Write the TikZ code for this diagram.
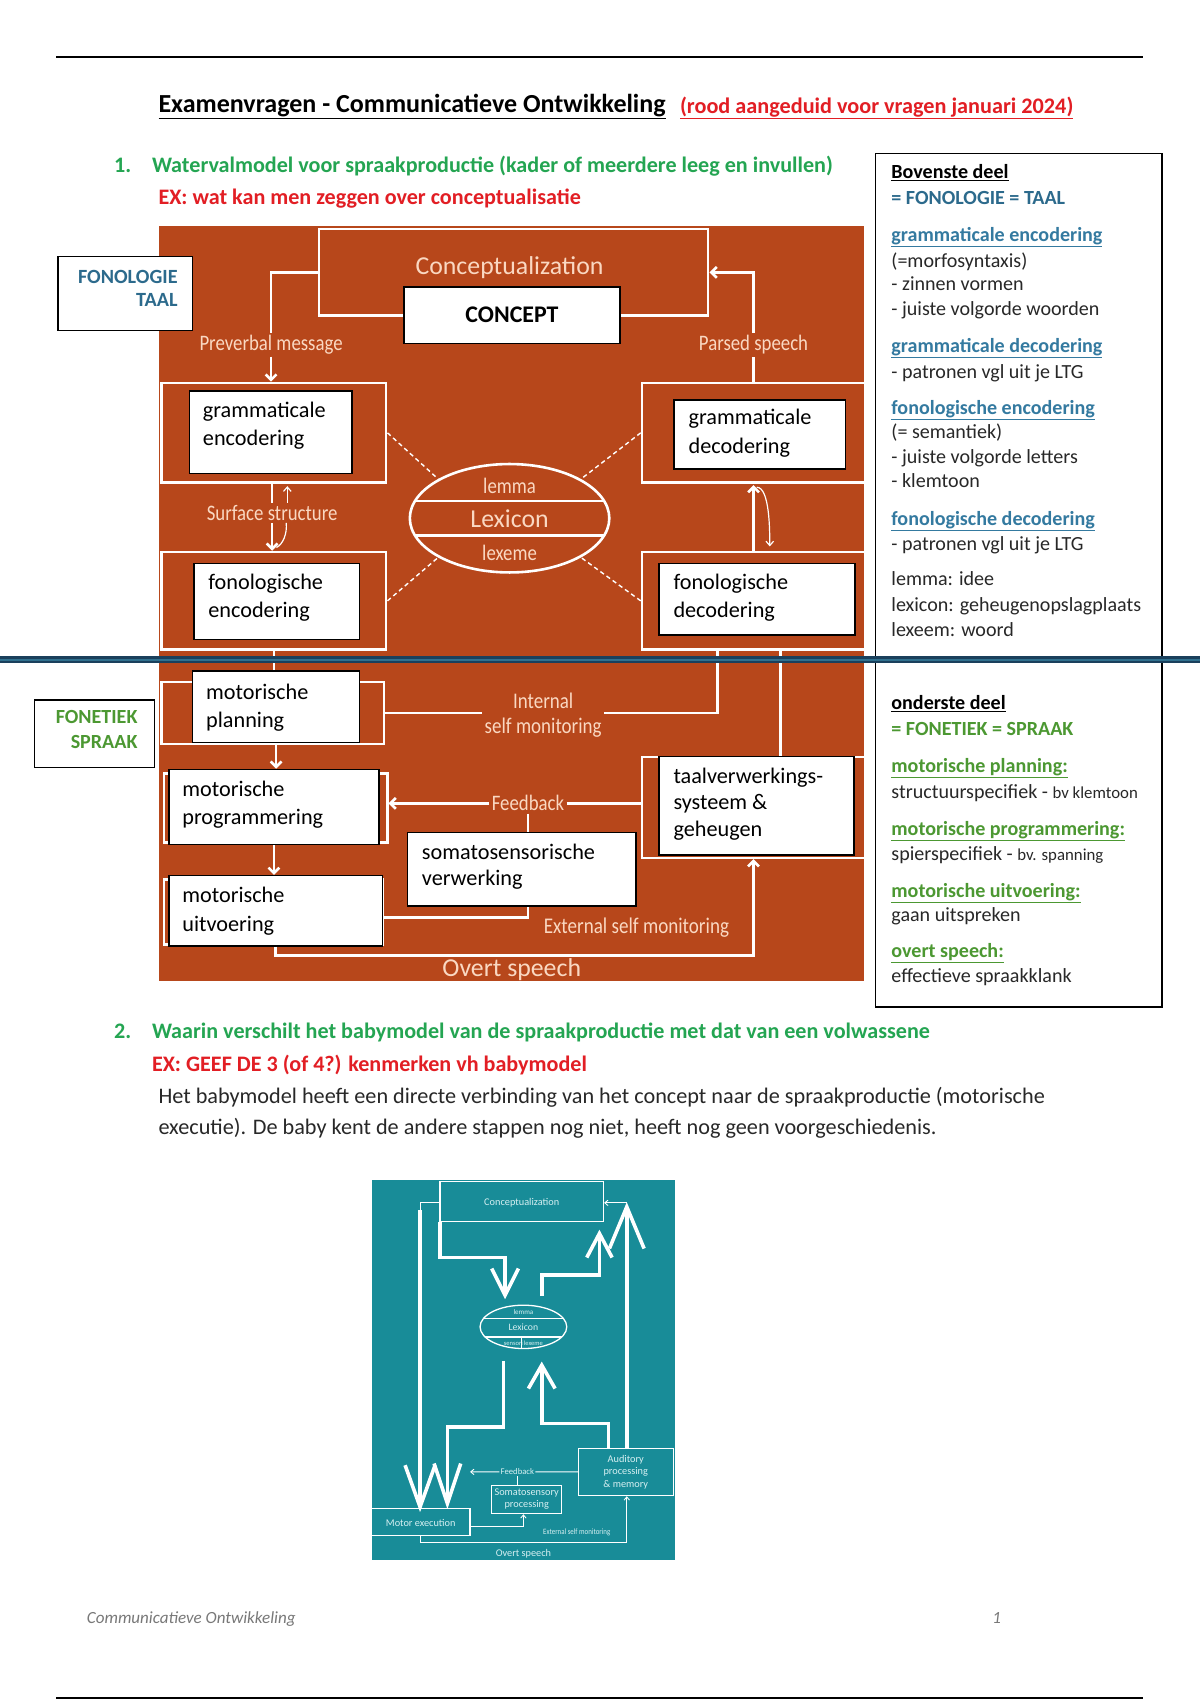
\documentclass[tikz,border=0pt]{standalone}
\usepackage{fontspec}
\setmainfont{Carlito}
\newfontfamily\condfont[FakeStretch=0.85]{Carlito}
\usetikzlibrary{arrows.meta,calc,shapes.geometric}
\newcommand\fs[2]{\fontsize{#1}{#2}\selectfont}
\newcommand\myul[1]{$\underline{\hbox{#1}}$}
\definecolor{rust}{RGB}{183,71,27}
\definecolor{peach}{RGB}{250,216,194}
\definecolor{hgreen}{RGB}{36,165,82}
\definecolor{hred}{RGB}{226,30,36}
\definecolor{fblue}{RGB}{44,106,140}
\definecolor{lblue}{RGB}{52,122,160}
\definecolor{fgreen}{RGB}{76,152,50}
\definecolor{tealbg}{RGB}{24,140,152}
\definecolor{tealtxt}{RGB}{215,240,242}
\definecolor{navy}{RGB}{26,64,92}
\definecolor{navyl}{RGB}{48,112,142}
\definecolor{foot}{RGB}{120,120,120}
\definecolor{dtxt}{RGB}{40,40,40}
\newcommand\wbx[5]{\node[wbox, minimum width={#4-#2}, minimum height={#5-#3}] (#1) at (#2,#3) {};}
\newcommand\frx[5]{\node[frm, minimum width={#4-#2}, minimum height={#5-#3}] (#1) at (#2,#3) {};}
\newcommand\chev[6]{\draw[tk] (#1,#2) -- (#3,#4) -- (#5,#6);}
\begin{document}
\begin{tikzpicture}[x=1pt,y=-1pt,
  wbox/.style={draw=black, line width=1.4, fill=white, inner sep=0, anchor=north west, rectangle},
  frm/.style={draw=white, line width=2.4, inner sep=0, anchor=north west, rectangle},
  wl/.style={white, line width=2.4},
  warr/.style={wl, -{Straight Barb[length=5pt,width=10pt]}},
  tl/.style={white, line width=1.1},
  tarr/.style={tl, -{Straight Barb[length=4pt,width=7pt]}},
  dsh/.style={white, line width=1.3, dash pattern=on 4pt off 3pt},
  bt/.style={inner sep=0, anchor=west, align=left, font=\fs{20.5}{26}, text=black, yshift=-2.5pt},
  pl/.style={inner sep=2pt, text=peach, font=\condfont\fs{20.4}{24}, align=center},
  bigpl/.style={inner sep=0, text=peach, font=\fs{23.8}{27}},
  rb/.style={inner sep=0, anchor=mid west, font=\fs{18.5}{21}, text=dtxt, yshift=-4pt},
  rbh/.style={rb, font=\bfseries\fs{18.5}{21}, text=lblue},
  rbg/.style={rb, font=\bfseries\fs{18.5}{21}, text=fgreen},
  hd/.style={inner sep=0, anchor=mid west, font=\bfseries\fs{20.4}{24}, yshift=-4.5pt},
  body/.style={inner sep=0, anchor=mid west, font=\fs{20.5}{24}, text=dtxt, yshift=-4pt},
  tbx/.style={white, line width=1.2},
  tk/.style={white, line width=3.3, line join=miter},
  tthin/.style={white, line width=0.8},
  tarr2/.style={tthin, -{Straight Barb[length=3pt,width=5pt]}},
  ttx/.style={inner sep=1pt, text=tealtxt, font=\fs{9.5}{11.5}, align=center},
]
\useasboundingbox (0,0) rectangle (1107,1568);
\fill[white] (0,0) rectangle (1107,1568);

% page rules
\draw[line width=1.8] (52,53) -- (1054,53);
\draw[line width=1.8] (52,1566) -- (1054,1566);

% header
\node[inner sep=0, anchor=mid west, font=\bfseries\fs{24}{28}, yshift=-5.5pt] (title) at (146,96) {\myul{Examenvragen - Communicatieve Ontwikkeling}};
\node[inner sep=0, anchor=mid west, font=\bfseries\fs{20.5}{24}, text=hred, yshift=-5pt] (title2) at (627,97) {\myul{(rood aangeduid voor vragen januari 2024)}};
\node[hd, text=hgreen] (n1) at (105,152) {1.};
\node[hd, text=hgreen] (q1) at (140,152) {Watervalmodel voor spraakproductie (kader of meerdere leeg en invullen)};
\node[hd, text=hred] (ex1) at (146,182) {EX: wat kan men zeggen over conceptualisatie};

% ===== orange diagram =====
\fill[rust] (147,208) rectangle (797,905);
\frx{cf}{293}{210}{652}{290}
\frx{gef}{148}{352}{355}{444}
\frx{fef}{148}{508}{355}{598}
\frx{gdf}{591}{352}{797}{444}
\frx{fdf}{591}{508}{797}{598}
\frx{mpf}{148}{628}{353}{685}
\frx{mgf}{150}{712}{356}{776}
\frx{muf}{150}{810}{352}{870}
\frx{tvf}{591}{697}{797}{790}

\node[bigpl] (cz) at (470,247) {Conceptualization};

% lexicon
\node[draw=white, line width=2.4, ellipse, minimum width=184, minimum height=100, inner sep=0] (lex) at (470,478) {};
\draw[wl] ($(lex.center)+(-87,-16)$) -- ($(lex.center)+(87,-16)$);
\draw[wl] ($(lex.center)+(-87,16)$) -- ($(lex.center)+(87,16)$);
\node[pl] (lem) at (470,448) {lemma};
\node[bigpl] (lexi) at (470,478) {Lexicon};
\node[pl] (lxm) at (470,510) {lexeme};

% boxes
\wbx{conc}{372}{264}{571}{316}
\wbx{ge}{174}{360}{324}{436}
\wbx{fe}{178}{519}{331}{589}
\wbx{gd}{621}{368}{779}{432}
\wbx{fd}{607}{519}{788}{585}
\wbx{mp}{177}{618}{331}{684}
\wbx{mg}{155}{709}{349}{778}
\wbx{mu}{155}{807}{352}{872}
\wbx{tv}{607}{697}{787}{788}
\wbx{som}{375}{767}{586}{835}

% labels in orange
\node[pl] (pvm) at (250,318) {Preverbal message};
\node[pl] (psp) at (695,318) {Parsed speech};
\node[pl] (ss) at (251,473) {Surface structure};
\node[pl, font=\condfont\fs{20.6}{23}] (ism) at (501,660) {Internal\\self monitoring};
\node[pl] (fb) at (487,741) {Feedback};
\node[pl, font=\condfont\fs{20.7}{24}] (esm) at (587,856) {External self monitoring};
\node[bigpl] (os) at (472,894) {Overt speech};

% connectors
\draw[wl] (cf.west) -| (pvm.north);
\draw[warr] (pvm.south) -- (pvm.south |- gef.north);
\draw[wl] (gdf.north -| psp.south) -- (psp.south);
\draw[warr] (psp.north) |- (cf.east);
\draw[wl] (gef.south -| ss.north) -- (ss.north);
\draw[tarr] ($(ss.north)+(14,0)$) -- ($(gef.south -| ss.north)+(14,2)$);
\draw[warr] (ss.south) -- (ss.south |- fef.north);
\draw[tl] ($(ss.south)+(13,0)$) .. controls +(1,10) and +(6,-3) .. ($(ss.south |- fef.north)+(4,-3)$);
\draw[dsh] (gef.east) -- (lex.north west);
\draw[dsh] (fef.east) -- (lex.south west);
\draw[dsh] (gdf.west) -- (lex.north east);
\draw[dsh] (fdf.west) -- (lex.south east);
\draw[warr] (fdf.north -| psp) -- ($(gdf.south -| psp)+(0,1)$);
\draw[tarr] ($(gdf.south -| psp)+(3,3)$) .. controls +(12,0) and +(0,-14) .. ($(fdf.north -| psp)+(15,-4)$);
\draw[wl] (fef.south) -- (fef.south |- mp.north);
\draw[wl] (mpf.east) -- (mpf.east -| ism.west);
\draw[wl] (mpf.east -| ism.east) -| ($(fdf.south west)+(71,0)$);
\draw[wl] ($(fdf.south west)+(129,0)$) -- ($(tvf.north west)+(129,0)$);
\draw[warr] (mp.south) -- (mp.south |- mg.north);
\draw[warr] (fb.west) -- (fb.west -| mgf.east);
\draw[wl] (fb.east) -- (fb.east -| tvf.west);
\draw[wl] (fb.south) -- (fb.south |- som.north);
\draw[warr] (mg.south) -- (mg.south |- mu.north);
\draw[wl] ($(mu.east)+(0,6)$) -| (fb |- som.south);
\draw[warr] (mu.south) -- ++(0,8) -| (tvf.south -| psp);

% box texts
\node[font=\bfseries\fs{22}{25}, inner sep=0] (conct) at (conc.center) {CONCEPT};
\node[bt] (get) at (187,390) {grammaticale\\encodering};
\node[bt] (fet) at (192,549) {fonologische\\encodering};
\node[bt] (gdt) at (635,397) {grammaticale\\decodering};
\node[bt] (fdt) at (621,549) {fonologische\\decodering};
\node[bt] (mpt) at (190,650) {motorische\\planning};
\node[bt] (mgt) at (168,740) {motorische\\programmering};
\node[bt] (mut) at (168,838) {motorische\\uitvoering};
\node[bt, font=\fs{20.5}{24.5}] (tvt) at (621,739) {taalverwerkings-\\systeem \&\\geheugen};
\node[bt, font=\fs{20.5}{24}] (somt) at (389,797) {somatosensorische\\verwerking};

% left tags
\wbx{fonb}{53}{236}{177}{304}
\node[inner sep=0, anchor=east, align=right, font=\bfseries\fs{18.6}{22}, text=fblue, yshift=-1pt] (fonbt) at (164,265) {FONOLOGIE\\TAAL};
\wbx{fetb}{31}{645}{142}{707}
\node[inner sep=0, anchor=east, align=right, font=\bfseries\fs{18.5}{23}, text=fgreen, yshift=-1pt] (fetbt) at (127,672) {FONETIEK\\SPRAAK};

% right box
\wbx{rbox}{807}{141}{1071}{928}
\node[rb, font=\bfseries\fs{18.5}{21}, text=black] (r1) at (822,158) {\myul{Bovenste deel}};
\node[rb, font=\bfseries\fs{18.5}{21}, text=fblue] (r2) at (822,182) {= FONOLOGIE = TAAL};
\node[rbh] (r3) at (822,216) {\myul{grammaticale encodering}};
\node[rb] (r4) at (822,240) {(=morfosyntaxis)};
\node[rb] (r5) at (822,262) {- zinnen vormen};
\node[rb] (r6) at (822,285) {- juiste volgorde woorden};
\node[rbh] (r7) at (822,319) {\myul{grammaticale decodering}};
\node[rb] (r8) at (822,343) {- patronen vgl uit je LTG};
\node[rbh] (r9) at (822,376) {\myul{fonologische encodering}};
\node[rb] (r10) at (822,398) {(= semantiek)};
\node[rb] (r11) at (822,421) {- juiste volgorde letters};
\node[rb] (r12) at (822,443) {- klemtoon};
\node[rbh] (r13) at (822,478) {\myul{fonologische decodering}};
\node[rb] (r14) at (822,501) {- patronen vgl uit je LTG};
\node[rb] (r15) at (822,534) {lemma: idee};
\node[rb] (r16) at (822,558) {lexicon: geheugenopslagplaats};
\node[rb] (r17) at (822,581) {lexeem: woord};
\node[rb, font=\bfseries\fs{18.5}{21}, text=black] (s1) at (822,648) {\myul{onderste deel}};
\node[rbg] (s2) at (822,672) {= FONETIEK = SPRAAK};
\node[rbg] (s3) at (822,706) {\myul{motorische planning:}};
\node[rb] (s4) at (822,730) {structuurspecifiek - {\fs{15.5}{18}bv klemtoon}};
\node[rbg] (s5) at (822,764) {\myul{motorische programmering:}};
\node[rb] (s6) at (822,787) {spierspecifiek - {\fs{15.5}{18}bv. spanning}};
\node[rbg] (s7) at (822,821) {\myul{motorische uitvoering:}};
\node[rb] (s8) at (822,844) {gaan uitspreken};
\node[rbg] (s9) at (822,877) {\myul{overt speech:}};
\node[rb] (s10) at (822,900) {effectieve spraakklank};

% blue divider
\draw[navy, line width=6] (0,608.5) -- (1107,608.5);
\draw[navyl, line width=2.2] (0,608.5) -- (1107,608.5);

% section 2
\node[hd, text=hgreen] (n2) at (105,951) {2.};
\node[hd, text=hgreen] (q2) at (140,951) {Waarin verschilt het babymodel van de spraakproductie met dat van een volwassene};
\node[hd, text=hred] (ex2) at (140,981) {EX: GEEF DE 3 (of 4?) kenmerken vh babymodel};
\node[body] (b1) at (146,1011) {Het babymodel heeft een directe verbinding van het concept naar de spraakproductie (motorische};
\node[body] (b2) at (146,1040) {executie). De baby kent de andere stappen nog niet, heeft nog geen voorgeschiedenis.};

% ===== teal baby model =====
\begin{scope}[shift={(332.1,1079.3)}, scale=0.3075]
\fill[tealbg] (35,30) rectangle (945,1170);
\draw[tbx] (240,35) rectangle (730,155);
\draw[tbx] (655,835) rectangle (940,975);
\draw[tbx] (395,945) rectangle (605,1030);
\draw[tbx] (35,1015) rectangle (330,1095);
\draw[tbx] (490,470) ellipse [x radius=130, y radius=65];
\draw[tbx] (370,445) -- (610,445);
\draw[tbx] (375,500) -- (605,500);
\draw[tthin] (485,500) -- (485,535);
% thick arrows
\draw[tthin] (240,98) -- (180,98) -- (180,125);
\draw[tk] (180,120) -- (180,1005);
\chev{135}{885}{180}{1010}{225}{885}
\draw[tk] (240,155) -- (240,262) -- (435,262) -- (435,370);
\chev{395}{295}{435}{375}{475}{295}
\draw[tk] (545,378) -- (545,315) -- (718,315) -- (718,195);
\chev{680}{262}{718}{190}{756}{262}
\draw[tk] (800,835) -- (800,115);
\chev{748}{235}{800}{110}{852}{235}
\draw[tarr2] (800,98) -- (732,98);
\draw[tk] (430,572) -- (430,770) -- (262,770) -- (262,995);
\chev{222}{880}{262}{1000}{302}{880}
\draw[tk] (745,835) -- (745,760) -- (545,760) -- (545,590);
\chev{505}{655}{545}{585}{585}{655}
% texts
\node[ttx] (tconc) at (485,97) {Conceptualization};
\node[ttx, font=\fs{6.5}{7}] (tlem) at (490,425) {lemma};
\node[ttx, font=\fs{9}{10}] (tlex) at (490,472) {Lexicon};
\node[ttx, font=\fs{6}{7}] (tsen) at (490,519) {sensori\,lexeme};
\node[ttx] (taud) at (797,905) {Auditory\\processing\\\& memory};
\node[ttx, font=\fs{9.5}{11}] (tsom) at (500,987) {Somatosensory\\processing};
\node[ttx] (tmot) at (182,1058) {Motor execution};
\node[ttx, font=\fs{8}{9}] (tfb) at (472,905) {Feedback};
\node[ttx, font=\condfont\fs{7.5}{9}] (tesm) at (650,1085) {External self monitoring};
\node[ttx] (tos) at (490,1150) {Overt speech};
% thin connectors
\draw[tarr2] (tfb.west) -- (330,905);
\draw[tthin] (tfb.east) -- (655,905);
\draw[tthin] (tfb.south) -- (tfb.south |- 0,945);
\draw[tarr2] (330,1068) -| (490,1032);
\draw[tarr2] (182,1095) -- (182,1118) -| (800,978);
\end{scope}

% footer
\node[inner sep=0, anchor=mid west, font=\itshape\fs{15.7}{18}, text=foot, yshift=-3pt] (ft) at (80,1492) {Communicatieve Ontwikkeling};
\node[inner sep=0, anchor=mid west, font=\itshape\fs{15.7}{18}, text=foot, yshift=-3pt] (pg) at (915,1492) {1};
\end{tikzpicture}
\end{document}
